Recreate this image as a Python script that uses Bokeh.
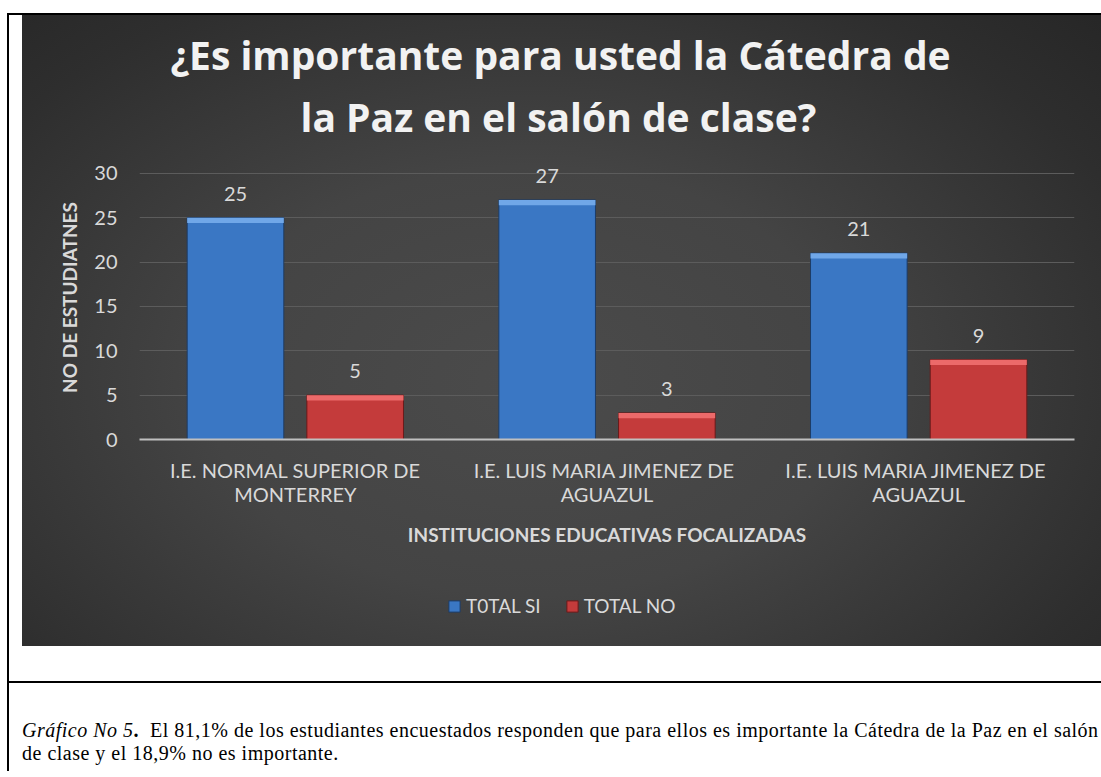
from bokeh.plotting import figure
from bokeh.models import Range1d, FixedTicker, Legend, LegendItem, Div, ColumnDataSource, Title
from bokeh.layouts import column
from bokeh.embed import file_html
from bokeh.resources import INLINE
from bokeh.core.properties import value

# ---------------- data ----------------
title_lines = ["¿Es importante para usted la Cátedra de", "la Paz en el salón de clase?"]
categories = [
    "I.E. NORMAL SUPERIOR DE\nMONTERREY",
    "I.E. LUIS MARIA JIMENEZ  DE\nAGUAZUL",
    "I.E. LUIS MARIA JIMENEZ  DE\nAGUAZUL",
]
series_names = ["T0TAL SI", "TOTAL NO"]
total_si = [25, 27, 21]
total_no = [5, 3, 9]
y_ticks = [0, 5, 10, 15, 20, 25, 30]
y_label = "NO DE ESTUDIATNES"
x_label = "INSTITUCIONES EDUCATIVAS FOCALIZADAS"
caption_lead = "Gráfico No 5"
caption_line1 = "El 81,1% de los estudiantes encuestados responden que para ellos es importante la Cátedra de la Paz en el salón"
caption_line2 = "de clase y el 18,9% no es importante."

# ---------------- styling ----------------
FONT = "Lato"
TXT = "#d9d9d9"
BAR_W = 0.31
OFF = 0.192
BLUE, BLUE_TOP, BLUE_EDGE = "#3a77c4", "#70a7e8", "#1d3c66"
RED, RED_TOP, RED_EDGE = "#c43b3b", "#ec6a6a", "#6a1a1a"
RADIAL = "radial-gradient(ellipse 75% 85% at 47% 58%, #4b4b4b 0%, #444444 40%, #2e2e2e 80%, #262626 100%)"

centers = [i + 0.5 for i in range(len(categories))]

# ---------------- main chart ----------------
p = figure(width=1101, height=560, x_range=Range1d(0, len(categories)), y_range=Range1d(0, 32),
           output_backend="svg", toolbar_location=None,
           min_border_left=139, min_border_right=27, min_border_top=155, min_border_bottom=121)
p.margin = 0
p.styles = {
    "background": (
        "linear-gradient(#000,#000) 7px 13px / 1094px 2px no-repeat, "
        "linear-gradient(#000,#000) 7px 13px / 2px 100% no-repeat, "
        f"{RADIAL} 22px 15px / 1079px 631px no-repeat, #ffffff"
    )
}
p.background_fill_alpha = 0
p.border_fill_alpha = 0
p.outline_line_color = None

# title (two lines, each centred); p.title is the outer (first) line
p.title.text = title_lines[0]
p.title.align = "left"
p.title.offset = 31
p.title.standoff = -12
p.title.text_font = "Open Sans"
p.title.text_font_size = "39px"
p.title.text_font_style = "bold"
p.title.text_color = "#f2f2f2"
t2 = Title(text=title_lines[1], align="left", offset=161, standoff=26,
           text_font="Open Sans", text_font_size="39px", text_font_style="bold", text_color="#f2f2f2")
p.add_layout(t2, "above")

# bars
src_si = ColumnDataSource(dict(x=[c - OFF for c in centers], top=total_si,
                               bev=[v - 0.6 for v in total_si], lab=[str(v) for v in total_si]))
src_no = ColumnDataSource(dict(x=[c + OFF for c in centers], top=total_no,
                               bev=[v - 0.6 for v in total_no], lab=[str(v) for v in total_no]))

p.vbar(x="x", top="top", bottom=0, width=BAR_W, source=src_si,
       fill_color=BLUE, line_color=BLUE_EDGE, line_width=1)
p.vbar(x="x", top="top", bottom="bev", width=BAR_W, source=src_si, fill_color=BLUE_TOP, line_color=None)
p.vbar(x="x", top="top", bottom=0, width=BAR_W, source=src_no,
       fill_color=RED, line_color=RED_EDGE, line_width=1)
p.vbar(x="x", top="top", bottom="bev", width=BAR_W, source=src_no, fill_color=RED_TOP, line_color=None)

# data labels
for src in (src_si, src_no):
    p.text(x="x", y="top", text="lab", source=src, text_align="center", text_baseline="middle",
           y_offset=-24, text_font=value(FONT), text_font_size="20px", text_color=TXT)

# grid
p.xgrid.visible = False
p.ygrid.ticker = FixedTicker(ticks=y_ticks)
p.ygrid.grid_line_color = "#5c5c5c"
p.ygrid.grid_line_width = 1

# y axis
ya = p.yaxis[0]
ya.ticker = FixedTicker(ticks=y_ticks)
ya.axis_line_color = None
ya.major_tick_line_color = None
ya.minor_tick_line_color = None
ya.major_tick_out = 0
ya.major_label_standoff = 22
ya.major_label_text_font = FONT
ya.major_label_text_font_size = "20px"
ya.major_label_text_color = TXT
ya.axis_label = y_label
ya.axis_label_text_font = FONT
ya.axis_label_text_font_style = "bold"
ya.axis_label_text_font_size = "19px"
ya.axis_label_text_color = TXT
ya.axis_label_standoff = 10

# x axis
xa = p.xaxis[0]
xa.ticker = FixedTicker(ticks=centers)
xa.major_label_overrides = {c: lab for c, lab in zip(centers, categories)}
xa.axis_line_color = "#bfbfbf"
xa.axis_line_width = 2
xa.major_tick_line_color = None
xa.minor_tick_line_color = None
xa.major_tick_out = 0
xa.major_label_standoff = 18
xa.major_label_text_font = FONT
xa.major_label_text_font_size = "20px"
xa.major_label_text_line_height = 1.0
xa.major_label_text_color = TXT
xa.axis_label = x_label
xa.axis_label_text_font = FONT
xa.axis_label_text_font_style = "bold"
xa.axis_label_text_font_size = "19px"
xa.axis_label_text_color = TXT
xa.axis_label_standoff = 14

# ---------------- legend strip (continues the chart background) ----------------
lf = figure(width=1101, height=86, x_range=Range1d(0, 1), y_range=Range1d(0, 1),
            output_backend="svg", toolbar_location=None, x_axis_type=None, y_axis_type=None,
            min_border=0)
lf.margin = 0
lf.styles = {
    "background": (
        "linear-gradient(#000,#000) 7px 0 / 2px 100% no-repeat, "
        f"{RADIAL} 22px -545px / 1079px 631px no-repeat, #ffffff"
    )
}
lf.background_fill_alpha = 0
lf.border_fill_alpha = 0
lf.outline_line_color = None
# legend-key renderers only (a single undefined row, so no bar is drawn here)
key_src = ColumnDataSource(dict(x=[float("nan")], top=[float("nan")]))
k_si = lf.vbar(x="x", top="top", width=BAR_W, source=key_src, fill_color=BLUE, line_color=BLUE_EDGE)
k_no = lf.vbar(x="x", top="top", width=BAR_W, source=key_src, fill_color=RED, line_color=RED_EDGE)
legend = Legend(items=[LegendItem(label=series_names[0], renderers=[k_si]),
                       LegendItem(label=series_names[1], renderers=[k_no])],
                orientation="horizontal", location=(308, 29),
                background_fill_alpha=0, border_line_color=None, padding=0, margin=0,
                spacing=24, label_standoff=5, glyph_width=14, glyph_height=14,
                label_text_font=FONT, label_text_font_size="19px", label_text_color=TXT)
lf.add_layout(legend)

# ---------------- page frame & caption ----------------
cap_html = (
    '<div style="position:relative;width:1101px;height:125px;overflow:hidden;background:#fff">'
    '<div style="position:absolute;left:7px;top:0;width:2px;height:125px;background:#000"></div>'
    '<div style="position:absolute;left:7px;top:35px;width:1094px;height:2px;background:#000"></div>'
    '<div style="position:absolute;left:22px;top:73px;font-family:\'Liberation Serif\';font-size:20px;'
    'letter-spacing:0.5px;line-height:23px;white-space:nowrap;color:#000">'
    f'<i>{caption_lead}</i><b>.</b>&nbsp; {caption_line1}<br>{caption_line2}</div>'
    '</div>'
)
cap = Div(text=cap_html, width=1101, height=125, margin=0)

root = column(p, lf, cap, spacing=0)

open("out.html", "w").write(file_html(root, INLINE))
